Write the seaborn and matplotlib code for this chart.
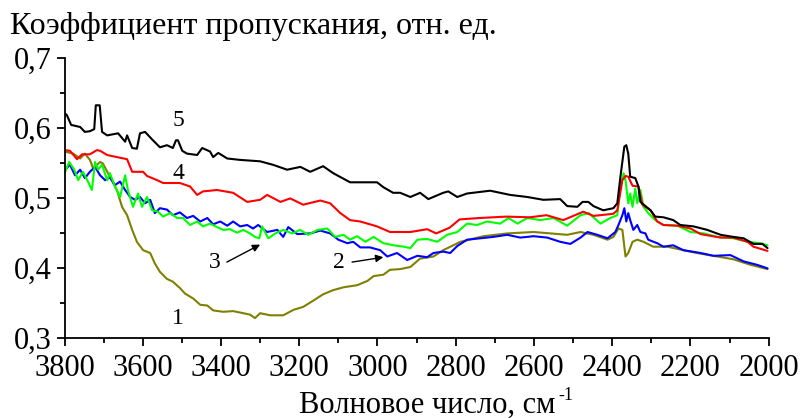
import numpy as np
import pandas as pd
import matplotlib
matplotlib.use("Agg")
import matplotlib.pyplot as plt
from matplotlib import font_manager as fm
import seaborn as sns

# ---------------- data ----------------
x1 = [3800, 3778, 3760, 3748, 3735, 3727, 3709, 3702, 3684, 3666,
      3653, 3640, 3627, 3615, 3599, 3581, 3569, 3556, 3538, 3523,
      3505, 3492, 3471, 3453, 3435, 3420, 3394, 3369, 3343, 3326,
      3313, 3300, 3274, 3241, 3214, 3190, 3164, 3139, 3113, 3087,
      3052, 3026, 3010, 2985, 2968, 2942, 2916, 2891, 2857, 2832,
      2788, 2729, 2668, 2601, 2558, 2515, 2481, 2448, 2412, 2397,
      2384, 2374, 2366, 2359, 2348, 2336, 2320, 2295, 2259, 2218,
      2174, 2131, 2090, 2046, 2003]
y1 = [0.566, 0.563, 0.556, 0.563, 0.554, 0.542, 0.551, 0.549, 0.530, 0.511,
      0.487, 0.475, 0.454, 0.437, 0.425, 0.421, 0.406, 0.394, 0.384, 0.380,
      0.371, 0.363, 0.356, 0.347, 0.346, 0.339, 0.337, 0.338, 0.335, 0.333,
      0.328, 0.335, 0.332, 0.332, 0.340, 0.344, 0.353, 0.362, 0.368, 0.372,
      0.375, 0.381, 0.388, 0.390, 0.397, 0.398, 0.401, 0.413, 0.416, 0.425,
      0.437, 0.445, 0.449, 0.451, 0.449, 0.447, 0.451, 0.447, 0.440, 0.444,
      0.456, 0.454, 0.416, 0.421, 0.437, 0.440, 0.437, 0.430, 0.430, 0.425,
      0.420, 0.416, 0.412, 0.404, 0.398]

x2 = [3799, 3786, 3773, 3760, 3748, 3735, 3722, 3709, 3696, 3684,
      3671, 3658, 3645, 3632, 3620, 3607, 3594, 3581, 3569, 3556,
      3538, 3523, 3505, 3487, 3471, 3453, 3435, 3420, 3402, 3384,
      3369, 3351, 3333, 3318, 3305, 3282, 3256, 3241, 3228, 3205,
      3172, 3146, 3121, 3100, 3077, 3062, 3044, 3019, 2993, 2975,
      2950, 2924, 2898, 2873, 2857, 2832, 2814, 2796, 2771, 2737,
      2704, 2668, 2635, 2601, 2566, 2533, 2507, 2481, 2463, 2438,
      2412, 2392, 2384, 2374, 2369, 2364, 2359, 2354, 2346, 2336,
      2328, 2315, 2308, 2285, 2269, 2244, 2218, 2174, 2141, 2098,
      2064, 2029, 2003]
y2 = [0.540, 0.547, 0.532, 0.540, 0.528, 0.537, 0.544, 0.532, 0.525, 0.529,
      0.518, 0.523, 0.511, 0.501, 0.497, 0.501, 0.492, 0.497, 0.478, 0.485,
      0.483, 0.475, 0.479, 0.471, 0.474, 0.466, 0.471, 0.462, 0.466, 0.460,
      0.466, 0.459, 0.461, 0.456, 0.461, 0.451, 0.454, 0.444, 0.458, 0.448,
      0.449, 0.453, 0.449, 0.440, 0.435, 0.437, 0.429, 0.429, 0.425, 0.416,
      0.421, 0.411, 0.417, 0.415, 0.421, 0.423, 0.421, 0.431, 0.440, 0.442,
      0.444, 0.447, 0.443, 0.445, 0.443, 0.437, 0.434, 0.443, 0.451, 0.447,
      0.442, 0.451, 0.461, 0.475, 0.485, 0.466, 0.478, 0.468, 0.454, 0.461,
      0.451, 0.449, 0.440, 0.435, 0.430, 0.432, 0.425, 0.421, 0.417, 0.418,
      0.409, 0.404, 0.399]

x3 = [3800, 3788, 3775, 3765, 3753, 3740, 3730, 3722, 3714, 3704,
      3691, 3684, 3671, 3658, 3645, 3638, 3625, 3612, 3602, 3589,
      3576, 3561, 3548, 3530, 3512, 3497, 3479, 3461, 3446, 3428,
      3410, 3394, 3377, 3359, 3343, 3326, 3313, 3302, 3295, 3279,
      3261, 3241, 3218, 3198, 3177, 3153, 3128, 3108, 3087, 3070,
      3052, 3031, 3010, 2985, 2959, 2933, 2916, 2898, 2873, 2847,
      2822, 2796, 2771, 2745, 2720, 2686, 2665, 2642, 2617, 2584,
      2550, 2515, 2481, 2460, 2430, 2405, 2387, 2379, 2371, 2366,
      2359, 2354, 2348, 2341, 2336, 2328, 2320, 2308, 2290, 2269,
      2233, 2200, 2166, 2131, 2090, 2054, 2021, 2003]
y3 = [0.535, 0.551, 0.540, 0.525, 0.537, 0.523, 0.511, 0.551, 0.540, 0.547,
      0.525, 0.535, 0.516, 0.501, 0.532, 0.511, 0.487, 0.506, 0.487, 0.501,
      0.482, 0.480, 0.473, 0.478, 0.471, 0.471, 0.461, 0.466, 0.459, 0.463,
      0.458, 0.454, 0.455, 0.450, 0.454, 0.449, 0.444, 0.442, 0.459, 0.442,
      0.449, 0.454, 0.449, 0.454, 0.447, 0.454, 0.456, 0.444, 0.447, 0.440,
      0.445, 0.437, 0.444, 0.435, 0.432, 0.430, 0.428, 0.440, 0.441, 0.437,
      0.447, 0.451, 0.463, 0.461, 0.466, 0.463, 0.471, 0.463, 0.471, 0.468,
      0.471, 0.460, 0.475, 0.478, 0.463, 0.471, 0.475, 0.516, 0.535, 0.525,
      0.492, 0.506, 0.487, 0.513, 0.492, 0.511, 0.487, 0.478, 0.468, 0.461,
      0.460, 0.451, 0.449, 0.444, 0.442, 0.437, 0.435, 0.432]

x4 = [3800, 3786, 3768, 3755, 3735, 3717, 3709, 3691, 3666, 3640,
      3627, 3599, 3589, 3563, 3548, 3505, 3479, 3461, 3446, 3410,
      3369, 3333, 3300, 3282, 3248, 3223, 3190, 3146, 3121, 3095,
      3070, 3044, 3001, 2968, 2916, 2873, 2850, 2816, 2790, 2739,
      2670, 2611, 2568, 2525, 2474, 2448, 2397, 2387, 2374, 2366,
      2359, 2348, 2333, 2323, 2302, 2285, 2269, 2233, 2200, 2174,
      2123, 2090, 2054, 2039, 2003]
y4 = [0.568, 0.567, 0.555, 0.562, 0.562, 0.568, 0.567, 0.561, 0.558, 0.555,
      0.537, 0.537, 0.531, 0.525, 0.521, 0.521, 0.516, 0.504, 0.509, 0.511,
      0.507, 0.494, 0.497, 0.504, 0.494, 0.499, 0.490, 0.496, 0.492, 0.478,
      0.468, 0.466, 0.459, 0.451, 0.451, 0.455, 0.449, 0.457, 0.469, 0.471,
      0.473, 0.472, 0.475, 0.468, 0.480, 0.474, 0.477, 0.482, 0.525, 0.531,
      0.530, 0.517, 0.516, 0.490, 0.482, 0.466, 0.461, 0.460, 0.456, 0.448,
      0.443, 0.443, 0.437, 0.430, 0.424]

x5 = [3800, 3794, 3783, 3760, 3748, 3735, 3724, 3720, 3710, 3704,
      3691, 3663, 3645, 3640, 3627, 3615, 3607, 3594, 3574, 3556,
      3538, 3523, 3515, 3510, 3499, 3487, 3461, 3448, 3428, 3420,
      3407, 3384, 3351, 3300, 3267, 3231, 3197, 3172, 3139, 3113,
      3070, 3026, 3001, 2985, 2960, 2942, 2916, 2891, 2870, 2832,
      2819, 2796, 2771, 2712, 2661, 2617, 2576, 2533, 2515, 2489,
      2476, 2461, 2448, 2423, 2397, 2387, 2379, 2369, 2364, 2359,
      2354, 2341, 2333, 2328, 2315, 2302, 2290, 2269, 2244, 2226,
      2192, 2157, 2123, 2090, 2064, 2039, 2016, 2003]
y5 = [0.621, 0.618, 0.604, 0.601, 0.594, 0.595, 0.598, 0.632, 0.632, 0.594,
      0.589, 0.592, 0.580, 0.589, 0.571, 0.570, 0.592, 0.594, 0.582, 0.572,
      0.575, 0.571, 0.582, 0.582, 0.567, 0.563, 0.561, 0.571, 0.566, 0.558,
      0.564, 0.556, 0.554, 0.552, 0.547, 0.540, 0.544, 0.537, 0.545, 0.535,
      0.522, 0.522, 0.522, 0.515, 0.507, 0.507, 0.501, 0.507, 0.498, 0.507,
      0.509, 0.501, 0.506, 0.510, 0.504, 0.501, 0.497, 0.498, 0.488, 0.487,
      0.494, 0.494, 0.488, 0.482, 0.485, 0.492, 0.530, 0.573, 0.575, 0.563,
      0.530, 0.528, 0.516, 0.494, 0.488, 0.482, 0.473, 0.472, 0.468, 0.461,
      0.459, 0.454, 0.447, 0.444, 0.442, 0.434, 0.434, 0.428]

series_names = ["1", "2", "3", "4", "5"]
series_colors = ["#808000", "#0000ff", "#00ff00", "#ff0000", "#000000"]

xticks = [3800, 3600, 3400, 3200, 3000, 2800, 2600, 2400, 2200, 2000]
xtick_labels = ["3800", "3600", "3400", "3200", "3000", "2800", "2600",
                "2400", "2200", "2000"]
yticks = [0.3, 0.4, 0.5, 0.6, 0.7]
ytick_labels = ["0,3", "0,4", "0,5", "0,6", "0,7"]

ylabel_text = "Коэффициент пропускания, отн. ед."
xlabel_text = "Волновое число, см"
xlabel_sup = "-1"

# curve number labels: (text, x, y)
curve_labels = [("5", 3508, 0.611), ("4", 3510, 0.534), ("1", 3510, 0.328)]
# arrow labels: (text, text_x, text_y, tail_x, tip_x, tip_y)
arrow_labels = [("3", 3415, 0.408, 3385, 3300, 0.433),
                ("2", 3098, 0.408, 3065, 2985, 0.415)]

# ---------------- build frame ----------------
frames = []
for name, xs, ys in zip(series_names, [x1, x2, x3, x4, x5], [y1, y2, y3, y4, y5]):
    frames.append(pd.DataFrame({"wn": xs, "T": ys, "curve": name}))
df = pd.concat(frames, ignore_index=True)

# ---------------- style ----------------
sns.set_theme(style="ticks")
plt.rcParams["font.family"] = ["Liberation Serif", "DejaVu Serif"]
serif_path = fm.findfont(fm.FontProperties(family="Liberation Serif"))


def fp(size):
    return fm.FontProperties(fname=serif_path, size=size)


fig = plt.figure(figsize=(8.02, 4.18), dpi=100)
ax = fig.add_axes([64.5 / 802, 1 - 337.7 / 418, (768.7 - 64.5) / 802, (337.7 - 57.7) / 418])

sns.lineplot(data=df, x="wn", y="T", hue="curve", hue_order=series_names,
             palette=series_colors, estimator=None, legend=False,
             linewidth=1.5, ax=ax)

ax.set_xlim(3800, 2000)
ax.set_ylim(0.3, 0.7)
ax.set_xticks(xticks)
ax.set_xticklabels(xtick_labels, fontproperties=fp(22))
ax.set_yticks(yticks)
ax.set_yticklabels(ytick_labels, fontproperties=fp(22))
ax.set_xticks(np.arange(2100, 3800, 200), minor=True)
ax.set_yticks([0.35, 0.45, 0.55, 0.65], minor=True)
ax.set_xlabel("")
ax.set_ylabel("")

for s in ["top", "right"]:
    ax.spines[s].set_visible(False)
for s in ["left", "bottom"]:
    ax.spines[s].set_linewidth(1.3)
    ax.spines[s].set_color("black")

ax.tick_params(axis="both", which="major", direction="out", length=6, width=1.3,
               colors="black", pad=3)
ax.tick_params(axis="both", which="minor", direction="out", length=3.5, width=1.3,
               colors="black")
ax.tick_params(axis="x", which="major", pad=6)

for t, xv, yv in curve_labels:
    ax.text(xv, yv, t, ha="center", va="center", color="black",
            fontproperties=fp(17))
for t, tx, ty, ax0, hx, hy in arrow_labels:
    ax.text(tx, ty, t, ha="center", va="center", color="black",
            fontproperties=fp(17))
    ax.annotate("", xy=(hx, hy), xytext=(ax0, ty),
                arrowprops=dict(arrowstyle="-|>", color="black", lw=1.0,
                                mutation_scale=11, shrinkA=0, shrinkB=0))

fig.text(10 / 802, 1 - 34.3 / 418, ylabel_text, ha="left",
         va="baseline", color="black", fontproperties=fp(23))
fig.text(299 / 802, 1 - 412.5 / 418, xlabel_text, ha="left",
         va="baseline", color="black", fontproperties=fp(22))
fig.text(558 / 802, 1 - 400 / 418, xlabel_sup, ha="left",
         va="baseline", color="black", fontproperties=fp(13))

fig.savefig("out.png", dpi=100, facecolor="white")
